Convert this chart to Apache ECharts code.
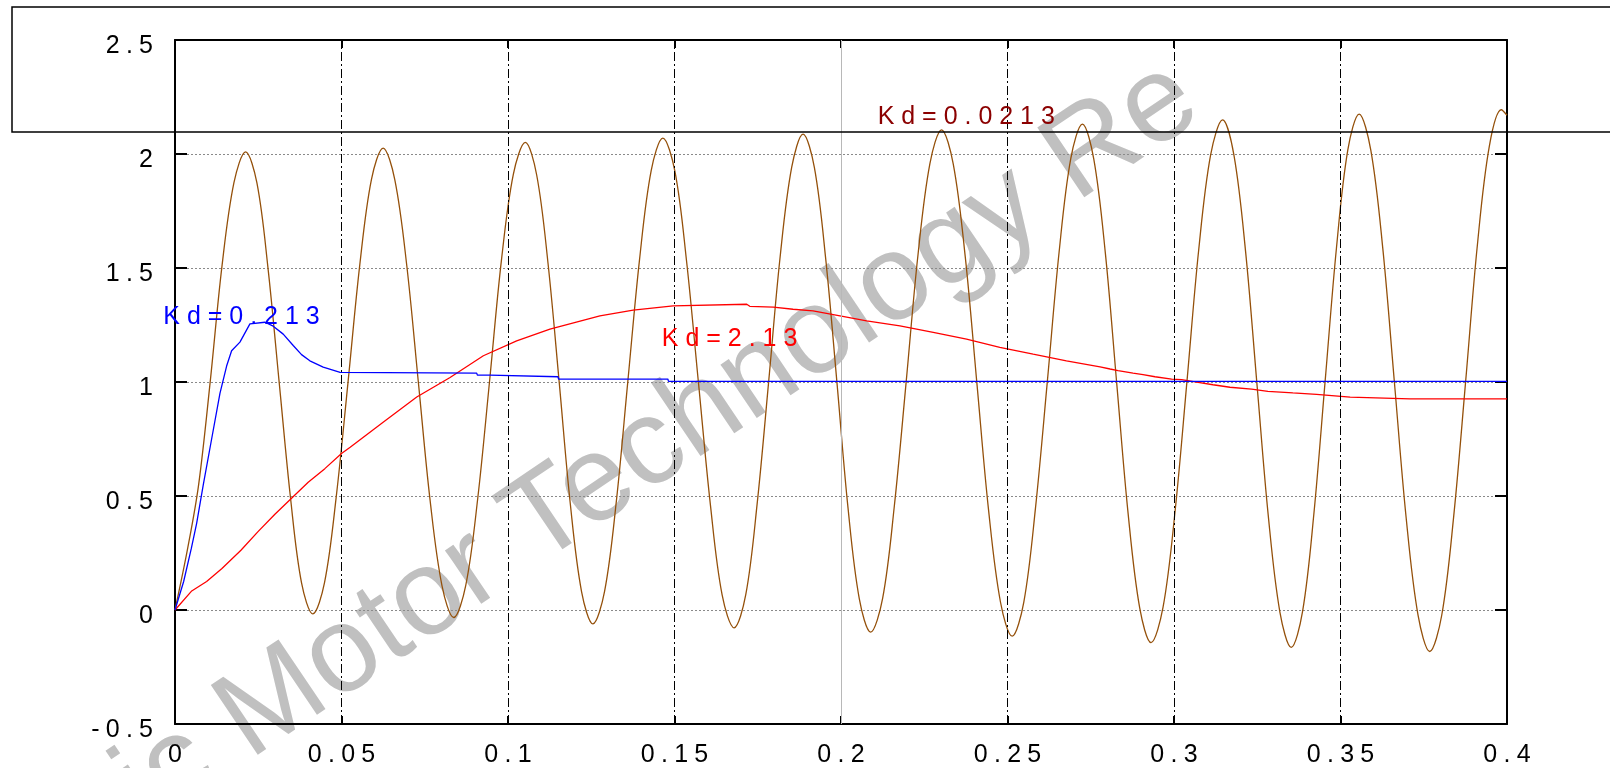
<!DOCTYPE html>
<html>
<head>
<meta charset="utf-8">
<script src="https://cdn.jsdelivr.net/npm/echarts/dist/echarts.min.js"></script>
<style>
html,body{margin:0;padding:0;background:#fff;}
#c{width:1610px;height:768px;}
</style>
</head>
<body>
<div id="c"></div>
<script>
// ---- data ----
const xTicks = [0, 0.05, 0.1, 0.15, 0.2, 0.25, 0.3, 0.35, 0.4];
const yTicks = [-0.5, 0, 0.5, 1, 1.5, 2, 2.5];

// Kd = 0.213 (blue)
const kd0213 = [[0,0],[0.0026,0.125],[0.0049,0.27],[0.0065,0.38],[0.0085,0.55],[0.011,0.75],[0.0135,0.95],[0.0155,1.07],[0.017,1.137],[0.0195,1.175],[0.0225,1.255],[0.027,1.262],[0.0295,1.245],[0.0325,1.21],[0.0355,1.16],[0.038,1.12],[0.0405,1.093],[0.0445,1.065],[0.0496,1.042],[0.0906,1.039],[0.0908,1.030],[0.0946,1.030],[0.0948,1.023],[0.1150,1.023],[0.1152,1.013],[0.148,1.013],[0.1482,1.003],[0.4,1.003]];

// Kd = 2.13 (red)
const kd213 = [[0,0],[0.0049,0.082],[0.0095,0.125],[0.0141,0.182],[0.0198,0.262],[0.025,0.345],[0.03,0.42],[0.035,0.49],[0.04,0.56],[0.045,0.62],[0.05,0.686],[0.0526,0.714],[0.0626,0.825],[0.0726,0.934],[0.0826,1.02],[0.0926,1.115],[0.1026,1.18],[0.1126,1.232],[0.1276,1.29],[0.1376,1.315],[0.1496,1.334],[0.150,1.341],[0.1717,1.341],[0.1726,1.332],[0.1797,1.328],[0.1856,1.319],[0.1916,1.312],[0.1997,1.29],[0.2077,1.268],[0.2177,1.246],[0.2277,1.218],[0.2377,1.188],[0.2477,1.152],[0.2577,1.122],[0.2677,1.093],[0.2778,1.066],[0.2808,1.057],[0.2832,1.050],[0.2877,1.039],[0.2907,1.032],[0.2943,1.023],[0.2993,1.013],[0.3023,1.010],[0.3068,0.999],[0.3117,0.988],[0.3168,0.977],[0.3233,0.969],[0.3282,0.959],[0.3357,0.952],[0.3428,0.946],[0.3529,0.934],[0.3709,0.926],[0.4,0.926]];

// Kd = 0.0213 (brown)
const kd00213 = [[0,0],
[0.0038,0.27],[0.0071,0.55],[0.0106,1.005],[0.0141,1.507],[0.0177,1.874],[0.0212,2.009],
[0.0246,1.873],[0.0279,1.503],[0.0313,0.996],[0.0347,0.490],[0.0380,0.119],[0.0414,-0.017],
[0.0449,0.120],[0.0484,0.494],[0.0520,1.005],[0.0555,1.515],[0.0590,1.889],[0.0625,2.026],
[0.0660,1.888],[0.0696,1.511],[0.0731,0.996],[0.0766,0.482],[0.0802,0.105],[0.0837,-0.033],
[0.0873,0.107],[0.0909,0.488],[0.0945,1.009],[0.0980,1.530],[0.1016,1.911],[0.1052,2.051],
[0.1086,1.909],[0.1120,1.523],[0.1154,0.995],[0.1187,0.467],[0.1221,0.080],[0.1255,-0.061],
[0.1290,0.082],[0.1325,0.472],[0.1360,1.005],[0.1395,1.537],[0.1430,1.927],[0.1465,2.070],
[0.1501,1.926],[0.1536,1.533],[0.1572,0.996],[0.1608,0.459],[0.1643,0.066],[0.1679,-0.078],
[0.1714,0.067],[0.1748,0.463],[0.1783,1.005],[0.1817,1.546],[0.1852,1.942],[0.1886,2.087],
[0.1920,1.941],[0.1954,1.541],[0.1988,0.995],[0.2021,0.449],[0.2055,0.049],[0.2089,-0.097],
[0.2125,0.051],[0.2160,0.454],[0.2196,1.005],[0.2231,1.555],[0.2267,1.958],[0.2302,2.106],
[0.2337,1.957],[0.2373,1.551],[0.2408,0.996],[0.2443,0.440],[0.2479,0.034],[0.2514,-0.115],
[0.2549,0.035],[0.2584,0.447],[0.2620,1.008],[0.2655,1.570],[0.2690,1.980],[0.2725,2.131],
[0.2759,1.979],[0.2794,1.563],[0.2828,0.994],[0.2862,0.426],[0.2897,0.009],[0.2931,-0.143],
[0.2967,0.011],[0.3003,0.430],[0.3039,1.004],[0.3074,1.577],[0.3110,1.996],[0.3146,2.150],
[0.3180,1.995],[0.3215,1.572],[0.3249,0.993],[0.3283,0.415],[0.3318,-0.009],[0.3352,-0.164],
[0.3386,-0.007],[0.3420,0.421],[0.3454,1.006],[0.3488,1.590],[0.3522,2.018],[0.3556,2.175],
[0.3591,2.017],[0.3627,1.586],[0.3662,0.997],[0.3697,0.407],[0.3733,-0.024],[0.3768,-0.182],
[0.3804,-0.023],[0.3840,0.412],[0.3876,1.006],[0.3911,1.600],[0.3947,2.035],[0.3983,2.194],
[0.4,2.170]];

// text annotations: [text, x, y (data coords of left/middle), colour]
const annotations = [
  ['Kd=0.213', -0.0035, 1.286, '#0000ff'],
  ['Kd=2.13', 0.1462, 1.190, '#ff0000'],
  ['Kd=0.0213', 0.2110, 2.161, '#8b0000']
];
const watermarkText = 'Electric Motor Technology Re';

// ---- chart ----
const FONT = '"Liberation Sans", Arial, sans-serif';
const spaced = s => String(s).split('').join(' ');
const spacedAxis = s => String(s).split('').join('\u2005');
const fmt = v => spacedAxis(String(parseFloat(Number(v).toFixed(3))));

const chart = echarts.init(document.getElementById('c'), null, {renderer: 'canvas'});

const gridLines = xTicks.filter(v => v > 0 && v < 0.4).map(v => ({
  xAxis: v,
  lineStyle: v === 0.2
    ? {color: '#b8b8b8', type: 'solid', width: 1}
    : {color: '#000', type: [9, 3, 2, 3], width: 1}
}));

const axisCommon = {
  type: 'value',
  axisLine: {show: true, onZero: false, lineStyle: {color: '#000', width: 2}},
  splitLine: {show: false}
};

chart.setOption({
  animation: false,
  backgroundColor: '#fff',
  grid: {left: 175, right: 103, top: 40, bottom: 42, containLabel: false},
  xAxis: [
    Object.assign({}, axisCommon, {
      position: 'bottom', min: 0, max: 0.4, interval: 0.05,
      axisTick: {show: true, inside: true, length: 8, lineStyle: {color: '#000', width: 2}},
      axisLabel: {show: true, margin: 19, color: '#000', fontSize: 25, fontFamily: FONT, formatter: fmt}
    }),
    Object.assign({}, axisCommon, {
      position: 'top', min: 0, max: 0.4, interval: 0.05,
      axisTick: {show: true, inside: true, length: 8, lineStyle: {color: '#000', width: 2}},
      axisLabel: {show: false}
    })
  ],
  yAxis: [
    Object.assign({}, axisCommon, {
      position: 'left', min: -0.5, max: 2.5, interval: 0.5,
      axisTick: {show: true, inside: true, length: 12, lineStyle: {color: '#000', width: 2}},
      axisLabel: {show: true, margin: 22, color: '#000', fontSize: 25, fontFamily: FONT, formatter: fmt, verticalAlign: 'top', lineHeight: 12},
      splitLine: {show: true, lineStyle: {color: '#8a8a8a', type: [2, 2], width: 1}}
    }),
    Object.assign({}, axisCommon, {
      position: 'right', min: -0.5, max: 2.5, interval: 0.5,
      axisTick: {show: true, inside: true, length: 12, lineStyle: {color: '#000', width: 2}},
      axisLabel: {show: false}
    })
  ],
  series: [
    {
      type: 'line', name: 'grid', data: [], silent: true,
      markLine: {silent: true, symbol: 'none', label: {show: false}, animation: false, data: gridLines}
    },
    {type: 'line', name: 'Kd=0.0213', data: kd00213, showSymbol: false, smooth: 0.35, lineStyle: {color: '#94500a', width: 1.3}, z: 3},
    {type: 'line', name: 'Kd=2.13', data: kd213, showSymbol: false, lineStyle: {color: '#ff0000', width: 1.3}, z: 4},
    {type: 'line', name: 'Kd=0.213', data: kd0213, showSymbol: false, lineStyle: {color: '#0000ff', width: 1.3}, z: 5}
  ]
});

// watermark (decorative), annotations placed via data coordinates
const ang = 34 * Math.PI / 180;
const graphics = [
  {
    type: 'text', z: -10, silent: true,
    x: -129, y: 975, rotation: ang,
    style: {text: watermarkText, fill: '#c0c0c0', font: '122px ' + FONT, align: 'left', verticalAlign: 'middle'}
  },
  {
    type: 'rect', z: 100, silent: true,
    shape: {x: 12, y: 7, width: 1700, height: 125},
    style: {fill: 'none', stroke: '#000', lineWidth: 1.5}
  }
];
annotations.forEach(a => {
  const p = chart.convertToPixel({xAxisIndex: 0, yAxisIndex: 0}, [a[1], a[2]]);
  graphics.push({
    type: 'text', z: 50, silent: true, x: p[0], y: p[1],
    style: {text: spaced(a[0]), fill: a[3], font: '25px ' + FONT, align: 'left', verticalAlign: 'middle'}
  });
});
chart.setOption({graphic: graphics});
</script>
</body>
</html>
